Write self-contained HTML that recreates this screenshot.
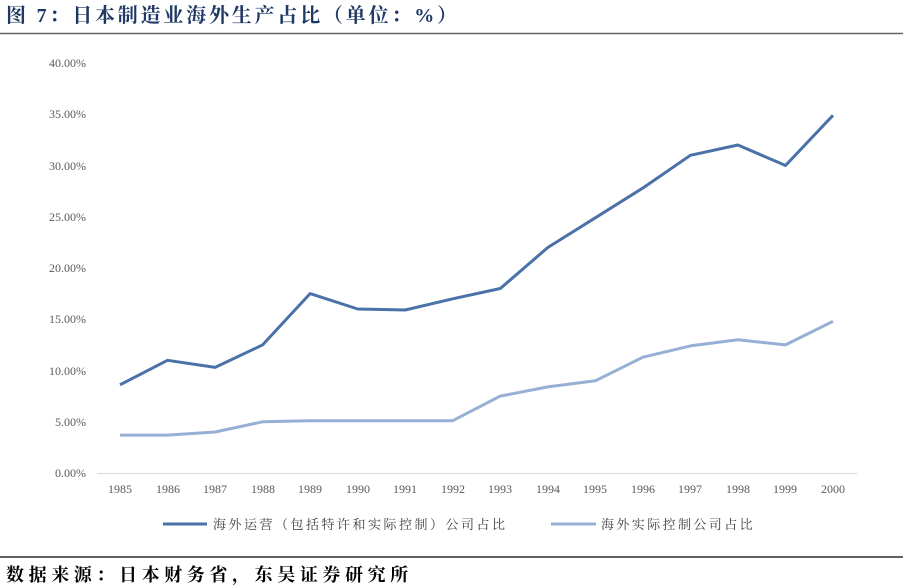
<!DOCTYPE html><html><head><meta charset="utf-8"><style>body{margin:0;background:#fff}svg{display:block}</style></head><body>
<svg width="912" height="588" xmlns="http://www.w3.org/2000/svg" font-family="Liberation Serif, Noto Serif CJK SC, serif">
<text x="6" y="22" font-size="20" font-weight="bold" fill="#1f3864" font-family="Liberation Serif, Noto Serif CJK SC, serif" letter-spacing="2.8">图 7：日本制造业海外生产占比（单位：%）</text>
<line x1="0" y1="33.5" x2="903" y2="33.5" stroke="#666" stroke-width="1.5"/>
<g font-size="12" fill="#595959" text-anchor="end">
<text x="86" y="477">0.00%</text><text x="86" y="426">5.00%</text><text x="86" y="375">10.00%</text><text x="86" y="323">15.00%</text><text x="86" y="272">20.00%</text><text x="86" y="221">25.00%</text><text x="86" y="170">30.00%</text><text x="86" y="118">35.00%</text><text x="86" y="67">40.00%</text>
</g>
<line x1="97" y1="473.5" x2="857" y2="473.5" stroke="#d9d9d9" stroke-width="1"/>
<g font-size="12" fill="#595959" text-anchor="middle">
<text x="120" y="493">1985</text><text x="168" y="493">1986</text><text x="215" y="493">1987</text><text x="263" y="493">1988</text><text x="310" y="493">1989</text><text x="358" y="493">1990</text><text x="405" y="493">1991</text><text x="453" y="493">1992</text><text x="500" y="493">1993</text><text x="548" y="493">1994</text><text x="595" y="493">1995</text><text x="643" y="493">1996</text><text x="690" y="493">1997</text><text x="738" y="493">1998</text><text x="785" y="493">1999</text><text x="833" y="493">2000</text>
</g>
<polyline fill="none" stroke="#4a72a8" stroke-width="3" stroke-linejoin="round" points="120,384.8 167.5,360.3 215.1,367.4 262.6,344.9 310.1,293.6 357.7,309 405.2,310 452.7,298.8 500.3,288.5 547.8,247.5 595.3,217.8 642.9,188 690.4,155.3 737.9,145 785.5,165.5 833,115.3"/>
<polyline fill="none" stroke="#97afd5" stroke-width="3" stroke-linejoin="round" points="120,435.1 167.5,435.1 215.1,432 262.6,421.8 310.1,420.7 357.7,420.7 405.2,420.7 452.7,420.7 500.3,396.1 547.8,386.9 595.3,380.8 642.9,357.2 690.4,345.9 737.9,339.8 785.5,344.9 833,321.3"/>
<line x1="163" y1="524" x2="207" y2="524" stroke="#4a72a8" stroke-width="3"/>
<text x="213" y="529" font-size="13" fill="#404040" letter-spacing="2.5">海外运营（包括特许和实际控制）公司占比</text>
<line x1="551" y1="524" x2="596" y2="524" stroke="#97afd5" stroke-width="3"/>
<text x="601" y="529" font-size="13" fill="#404040" letter-spacing="2.4">海外实际控制公司占比</text>
<line x1="0" y1="557" x2="903" y2="557" stroke="#000" stroke-width="1.2"/>
<text x="6" y="581" font-size="18" font-weight="bold" fill="#000" letter-spacing="4.6">数据来源：日本财务省，东吴证券研究所</text>
</svg>
</body></html>
